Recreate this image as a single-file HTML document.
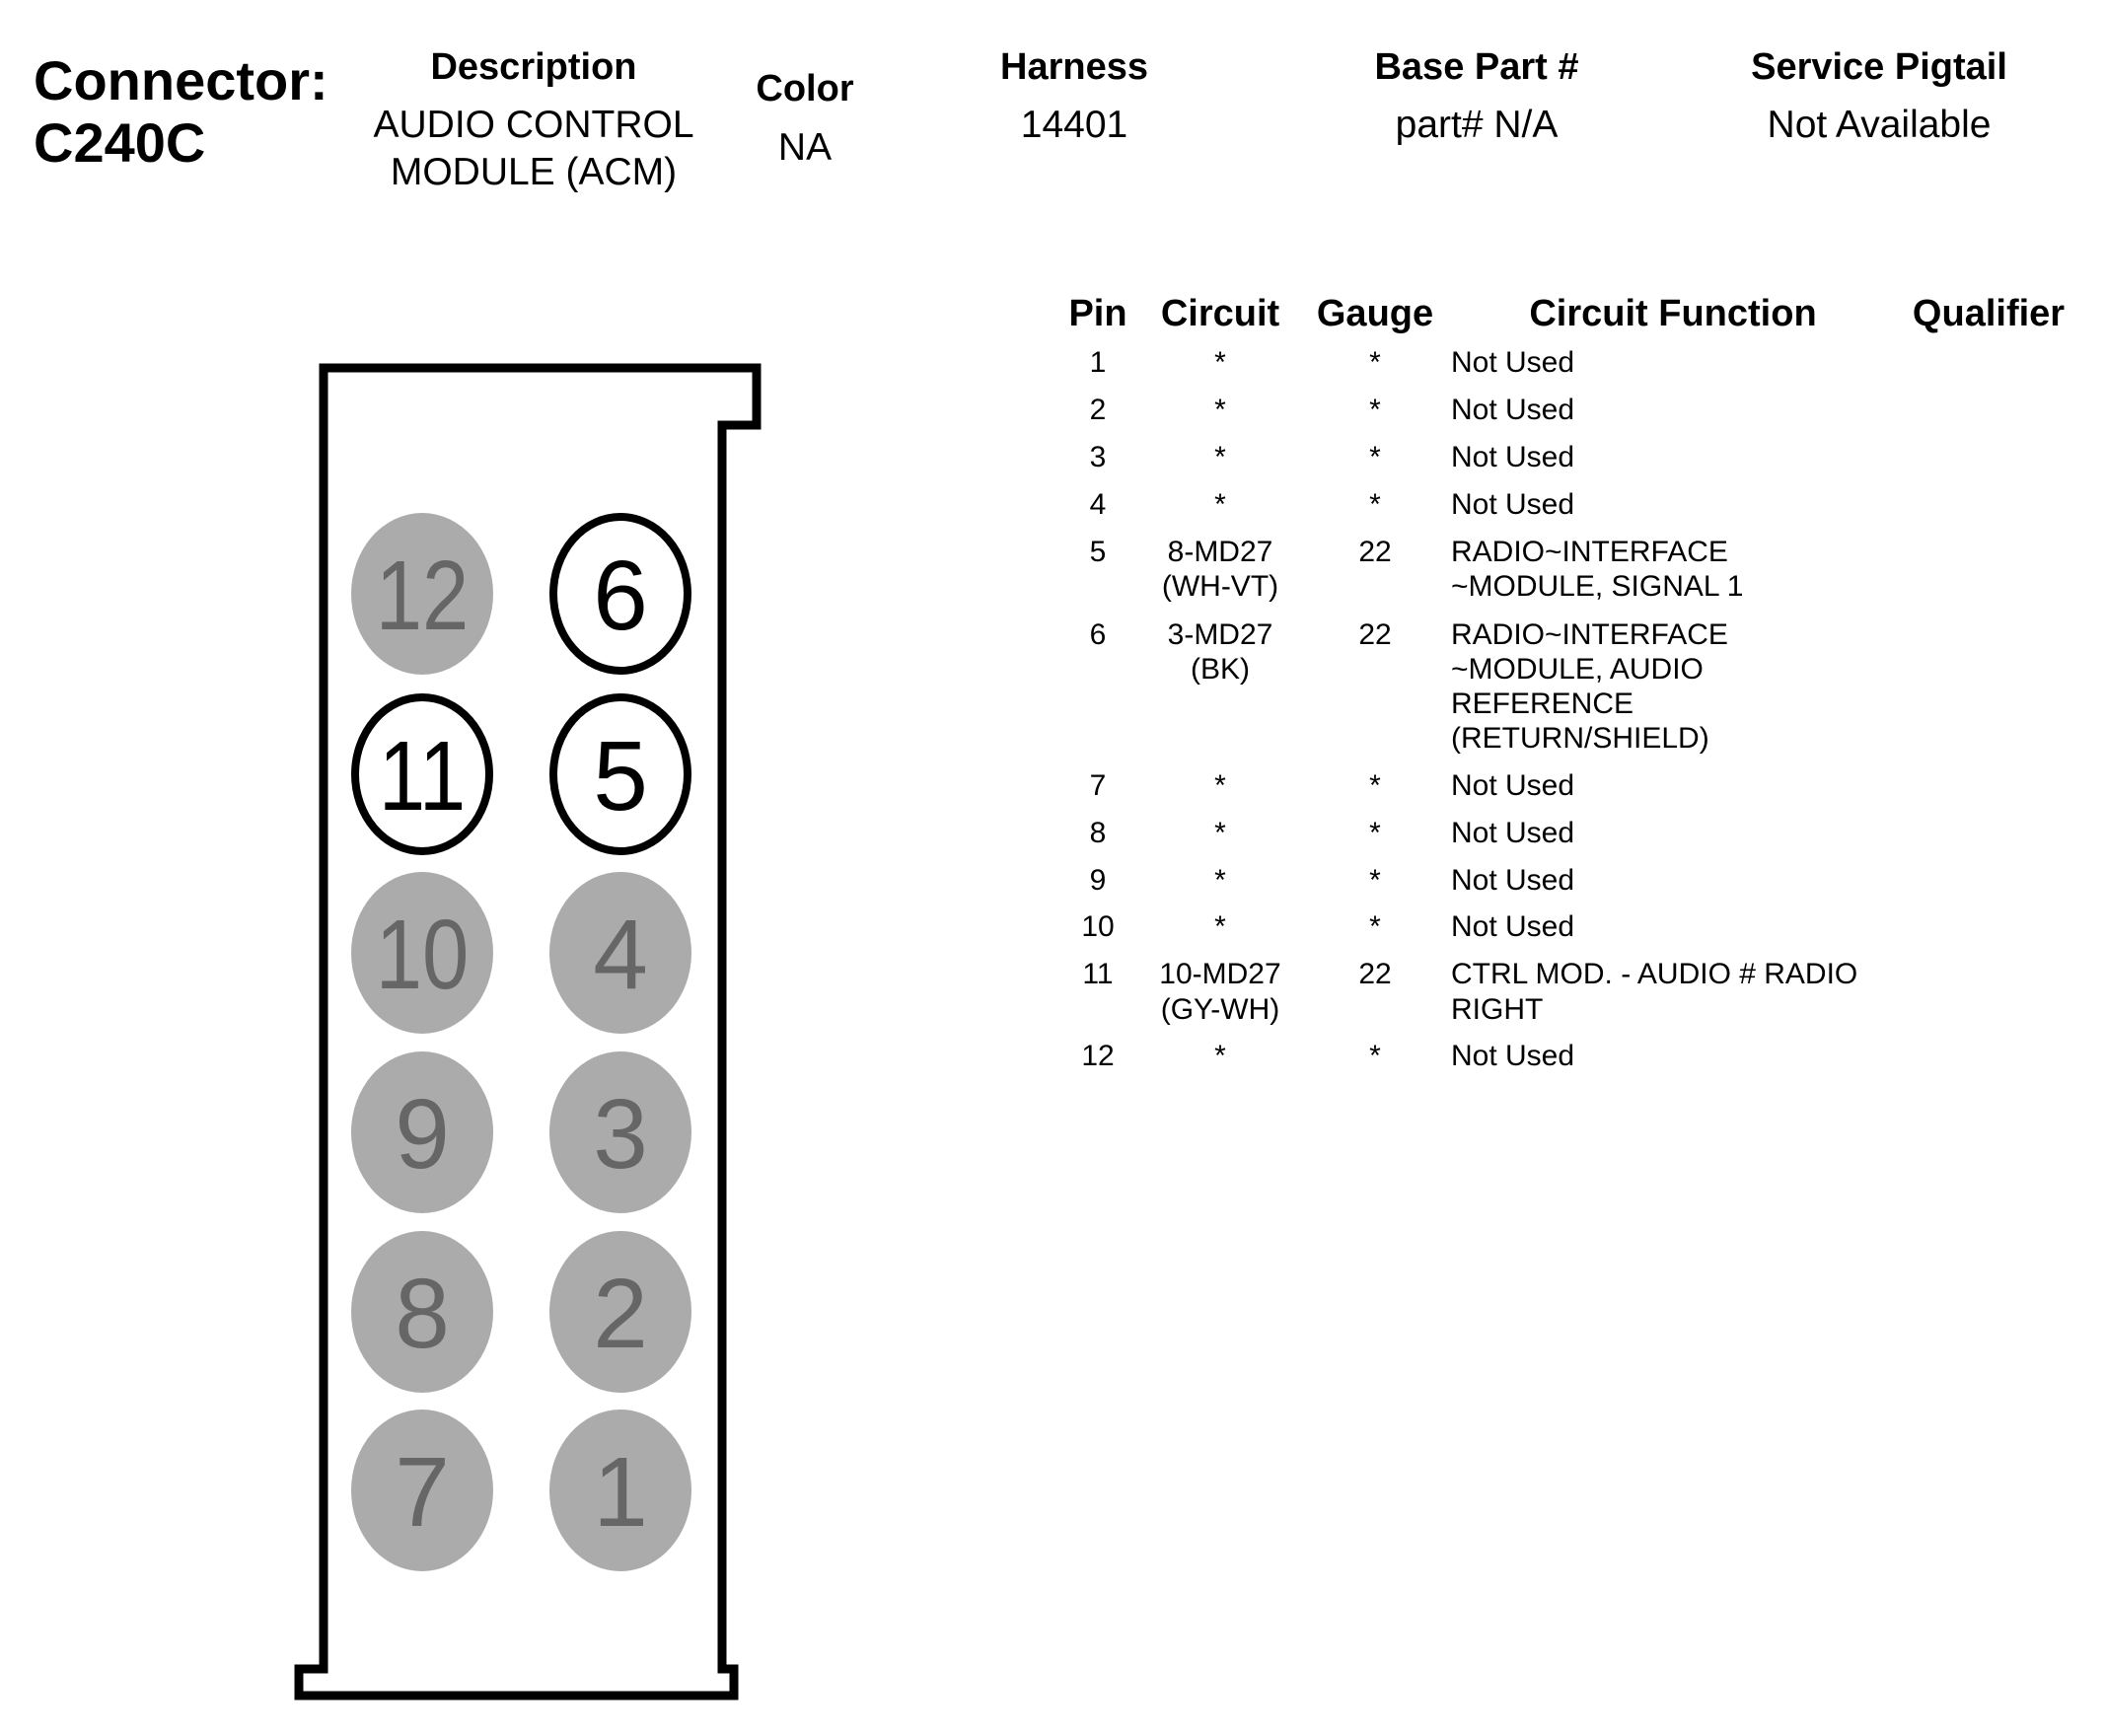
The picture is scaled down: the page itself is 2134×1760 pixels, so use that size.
<!DOCTYPE html>
<html><head><meta charset="utf-8"><style>
html,body{margin:0;padding:0;background:#fff;}
svg{display:block;}
text{font-family:"Liberation Sans",Arial,sans-serif;}
</style></head><body>
<svg width="2134" height="1760" viewBox="0 0 2134 1760" xmlns="http://www.w3.org/2000/svg">
<rect width="2134" height="1760" fill="#fff"/>
<!-- header -->
<g transform="translate(-5,0)">
<g font-weight="bold" fill="#000">
<text x="39" y="101" font-size="56">Connector:</text>
<text x="39" y="164" font-size="56">C240C</text>
<g font-size="38" text-anchor="middle">
<text x="546" y="80">Description</text>
<text x="821" y="102">Color</text>
<text x="1094" y="80">Harness</text>
<text x="1502" y="80">Base Part #</text>
<text x="1910" y="80">Service Pigtail</text>
</g>
</g>
<g font-size="39" text-anchor="middle" fill="#000">
<text x="546" y="139">AUDIO CONTROL</text>
<text x="546" y="187">MODULE (ACM)</text>
<text x="821" y="162">NA</text>
<text x="1094" y="139">14401</text>
<text x="1502" y="139">part# N/A</text>
<text x="1910" y="139">Not Available</text>
</g>
</g>
<g transform="translate(-6,-3)">
<!-- table header -->
<g font-size="38" font-weight="bold" text-anchor="middle" fill="#000">
<text x="1119" y="333">Pin</text>
<text x="1243" y="333">Circuit</text>
<text x="1400" y="333">Gauge</text>
<text x="1702" y="333">Circuit Function</text>
<text x="2022" y="333">Qualifier</text>
</g>
</g>
<g transform="translate(-6,-5)">
<g font-size="30" fill="#000">
<g text-anchor="middle">
<text x="1119" y="382">1</text><text x="1243" y="382">*</text><text x="1400" y="382">*</text>
<text x="1119" y="430">2</text><text x="1243" y="430">*</text><text x="1400" y="430">*</text>
<text x="1119" y="478">3</text><text x="1243" y="478">*</text><text x="1400" y="478">*</text>
<text x="1119" y="526">4</text><text x="1243" y="526">*</text><text x="1400" y="526">*</text>
<text x="1119" y="574">5</text><text x="1243" y="574">8-MD27</text><text x="1243" y="609">(WH-VT)</text><text x="1400" y="574">22</text>
<text x="1119" y="658">6</text><text x="1243" y="658">3-MD27</text><text x="1243" y="693">(BK)</text><text x="1400" y="658">22</text>
<text x="1119" y="811">7</text><text x="1243" y="811">*</text><text x="1400" y="811">*</text>
<text x="1119" y="859">8</text><text x="1243" y="859">*</text><text x="1400" y="859">*</text>
<text x="1119" y="907">9</text><text x="1243" y="907">*</text><text x="1400" y="907">*</text>
<text x="1119" y="954">10</text><text x="1243" y="954">*</text><text x="1400" y="954">*</text>
<text x="1119" y="1002">11</text><text x="1243" y="1002">10-MD27</text><text x="1243" y="1038">(GY-WH)</text><text x="1400" y="1002">22</text>
<text x="1119" y="1085">12</text><text x="1243" y="1085">*</text><text x="1400" y="1085">*</text>
</g>
<g transform="translate(-2,0)">
<text x="1479" y="382">Not Used</text>
<text x="1479" y="430">Not Used</text>
<text x="1479" y="478">Not Used</text>
<text x="1479" y="526">Not Used</text>
<text x="1479" y="574">RADIO~INTERFACE</text>
<text x="1479" y="609">~MODULE, SIGNAL 1</text>
<text x="1479" y="658">RADIO~INTERFACE</text>
<text x="1479" y="693">~MODULE, AUDIO</text>
<text x="1479" y="728">REFERENCE</text>
<text x="1479" y="763">(RETURN/SHIELD)</text>
<text x="1479" y="811">Not Used</text>
<text x="1479" y="859">Not Used</text>
<text x="1479" y="907">Not Used</text>
<text x="1479" y="954">Not Used</text>
<text x="1479" y="1002">CTRL MOD. - AUDIO # RADIO</text>
<text x="1479" y="1038">RIGHT</text>
<text x="1479" y="1085">Not Used</text>
</g>
</g>
</g>
<!-- connector outline -->
<path d="M328 1692 L328 373 L767 373 L767 431 L732 431 L732 1692 L744 1692 L744 1719 L303 1719 L303 1692 Z" fill="none" stroke="#000" stroke-width="9" stroke-linejoin="miter"/>
<!-- pins -->
<g font-size="100" text-anchor="middle">
<g fill="#ababab">
<ellipse cx="428" cy="602" rx="72" ry="82"/>
<ellipse cx="428" cy="966" rx="72" ry="82"/><ellipse cx="629" cy="966" rx="72" ry="82"/>
<ellipse cx="428" cy="1148" rx="72" ry="82"/><ellipse cx="629" cy="1148" rx="72" ry="82"/>
<ellipse cx="428" cy="1330" rx="72" ry="82"/><ellipse cx="629" cy="1330" rx="72" ry="82"/>
<ellipse cx="428" cy="1511" rx="72" ry="82"/><ellipse cx="629" cy="1511" rx="72" ry="82"/>
</g>
<g fill="#fff" stroke="#000" stroke-width="8">
<ellipse cx="629" cy="602" rx="68" ry="78"/>
<ellipse cx="428" cy="785" rx="68" ry="78"/>
<ellipse cx="629" cy="785" rx="68" ry="78"/>
</g>
<g fill="#666">
<text x="428" y="638" transform="translate(428 0) scale(0.85 1) translate(-428 0)">12</text>
<text x="428" y="1002" transform="translate(428 0) scale(0.85 1) translate(-428 0)">10</text>
<text x="629" y="1002">4</text>
<text x="428" y="1184">9</text><text x="629" y="1184">3</text>
<text x="428" y="1366">8</text><text x="629" y="1366">2</text>
<text x="428" y="1547">7</text><text x="629" y="1547">1</text>
</g>
<g fill="#000">
<text x="629" y="638">6</text>
<text x="428" y="821" transform="translate(428 0) scale(0.85 1) translate(-428 0)">11</text>
<text x="629" y="821">5</text>
</g>
</g>
</svg>
</body></html>
